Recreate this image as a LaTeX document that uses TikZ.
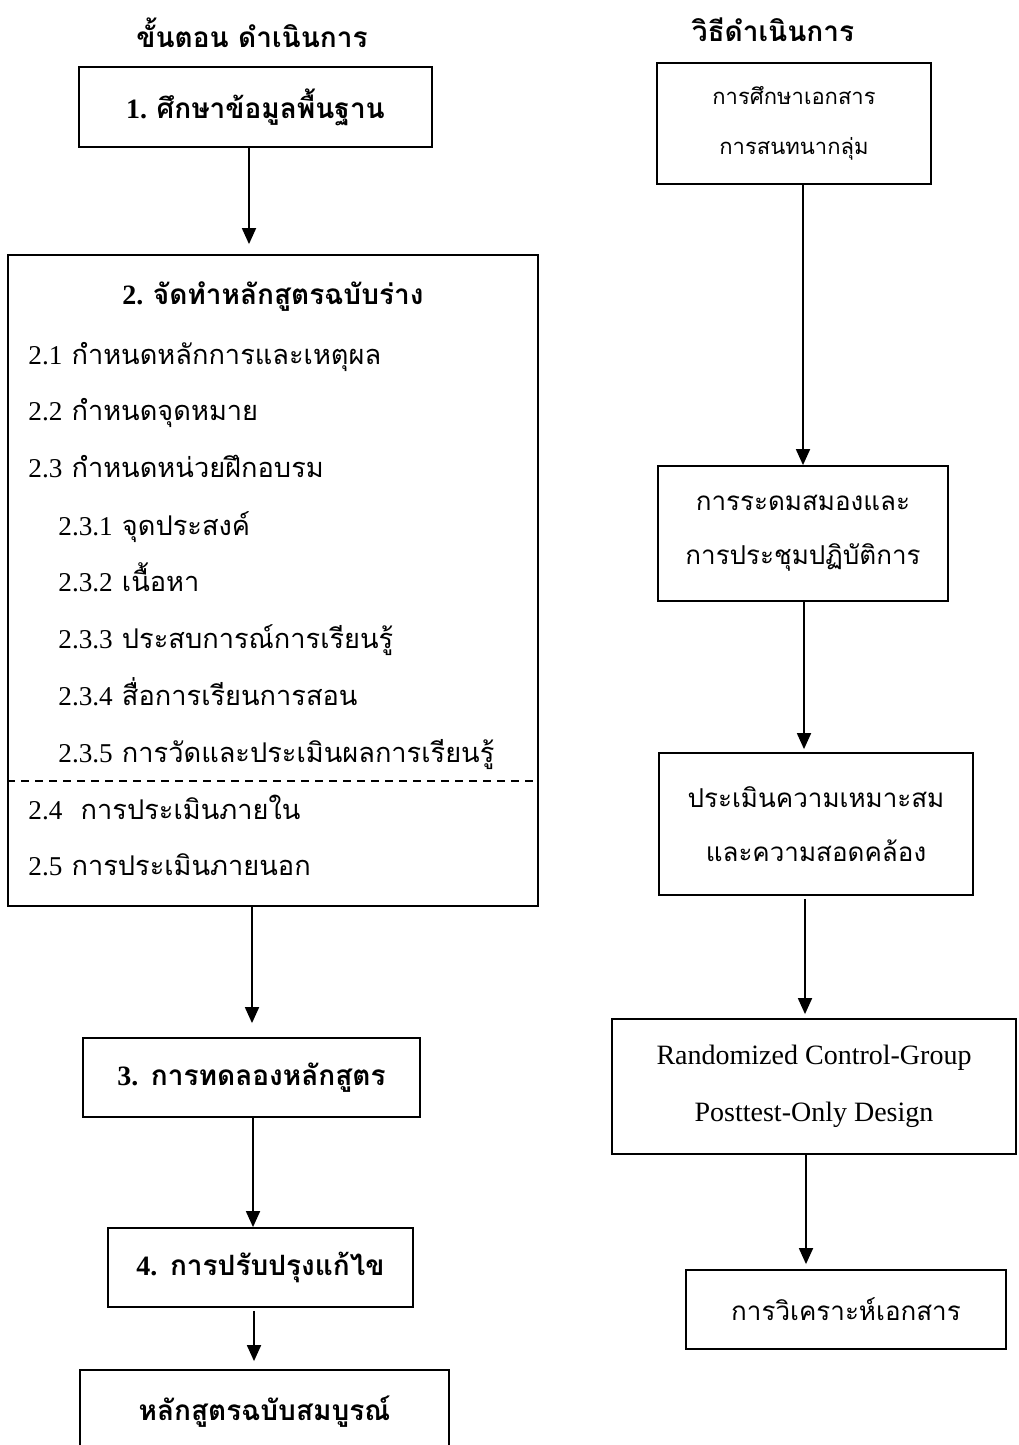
\documentclass[tikz,border=0pt]{standalone}
\usepackage{fontspec}
\setmainfont{Liberation Serif}
\newfontfamily\thai[Script=Thai]{Loma}
\usetikzlibrary{arrows.meta}
\begin{document}
\begin{tikzpicture}[x=0.5pt,y=-0.5pt,
  box/.style={draw, line width=0.9pt, inner sep=0pt, align=center},
  arr/.style={line width=0.9pt, -{Triangle[length=8pt,width=7pt]}},
  bigthai/.style={font=\thai\bfseries\fontsize{14}{28}\selectfont},
  itemthai/.style={font=\thai\fontsize{13.6}{28}\selectfont, anchor=base west, inner sep=0pt},
  rthai/.style={font=\thai\fontsize{13}{27}\selectfont},
  rthaismall/.style={font=\thai\fontsize{11}{25}\selectfont},
]
\useasboundingbox (0,0) rectangle (1018,1445);
\fill[white] (0,0) rectangle (1018,1445);

% titles
\node[bigthai] (tl) at (252,33) {ขั้นตอน ดำเนินการ};
\node[bigthai] (tr) at (773,30) {วิธีดำเนินการ};

% left column
\node[box, bigthai, minimum width=176.5pt, minimum height=40pt] (b1) at (255.5,107) {{\rmfamily 1.}\ ศึกษาข้อมูลพื้นฐาน};
\node[box, minimum width=265pt, minimum height=325.5pt] (b2) at (273,580.5) {};
\node[bigthai] (b2h) at (273,297) {{\rmfamily 2.}\ จัดทำหลักสูตรฉบับร่าง};
\node[itemthai] (i21) at (28,364) {{\rmfamily 2.1} กำหนดหลักการและเหตุผล};
\node[itemthai] (i22) at (28,420) {{\rmfamily 2.2} กำหนดจุดหมาย};
\node[itemthai] (i23) at (28,477) {{\rmfamily 2.3} กำหนดหน่วยฝึกอบรม};
\node[itemthai] (i231) at (58,535) {{\rmfamily 2.3.1} จุดประสงค์};
\node[itemthai] (i232) at (58,591) {{\rmfamily 2.3.2} เนื้อหา};
\node[itemthai] (i233) at (58,648) {{\rmfamily 2.3.3} ประสบการณ์การเรียนรู้};
\node[itemthai] (i234) at (58,705) {{\rmfamily 2.3.4} สื่อการเรียนการสอน};
\node[itemthai] (i235) at (58,762) {{\rmfamily 2.3.5} การวัดและประเมินผลการเรียนรู้};
\node[itemthai] (i24) at (28,819) {{\rmfamily 2.4}\ \ การประเมินภายใน};
\node[itemthai] (i25) at (28,875) {{\rmfamily 2.5} การประเมินภายนอก};
\coordinate (dashy) at (0,781);
\draw[dashed, line width=0.8pt, dash pattern=on 4pt off 3pt] (b2.west |- dashy) -- (b2.east |- dashy);

\node[box, bigthai, minimum width=168.5pt, minimum height=39.5pt] (b3) at (251.5,1077.5) {{\rmfamily 3.} การทดลองหลักสูตร};
\node[box, bigthai, minimum width=152.5pt, minimum height=39.5pt] (b4) at (260.5,1267.5) {{\rmfamily 4.} การปรับปรุงแก้ไข};
\node[box, bigthai, minimum width=184.5pt, minimum height=42pt] (b5) at (264.5,1412) {หลักสูตรฉบับสมบูรณ์};

\coordinate (x1) at (249,0);
\coordinate (x2) at (252,0);
\coordinate (x3) at (253,0);
\coordinate (x4) at (254,0);
\draw[arr, shorten >=5pt] (b1.south -| x1) -- (b2.north -| x1);
\draw[arr, shorten >=7pt] (b2.south -| x2) -- (b3.north -| x2);
\draw[arr] (b3.south -| x3) -- (b4.north -| x3);
\draw[arr, shorten <=1.5pt, shorten >=4pt] (b4.south -| x4) -- (b5.north -| x4);

% right column
\node[box, rthaismall, minimum width=137pt, minimum height=60.5pt] (ra) at (794,123.5) {การศึกษาเอกสาร\\การสนทนากลุ่ม};
\node[box, rthai, minimum width=145pt, minimum height=67.5pt] (rb) at (803,533.5) {การระดมสมองและ\\การประชุมปฏิบัติการ};
\node[box, rthai, minimum width=157pt, minimum height=71pt] (rc) at (816,824) {ประเมินความเหมาะสม\\และความสอดคล้อง};
\node[box, font=\fontsize{14}{28.5}\selectfont, minimum width=202pt, minimum height=67.5pt] (rd) at (814,1086.5) {Randomized Control-Group\\Posttest-Only Design};
\node[box, rthai, minimum width=160pt, minimum height=39.5pt] (re) at (846,1309.5) {การวิเคราะห์เอกสาร};

\coordinate (y1) at (803,0);
\coordinate (y2) at (804,0);
\coordinate (y3) at (805,0);
\coordinate (y4) at (806,0);
\draw[arr] (ra.south -| y1) -- (rb.north -| y1);
\draw[arr, shorten >=1.5pt] (rb.south -| y2) -- (rc.north -| y2);
\draw[arr, shorten <=1.5pt, shorten >=2pt] (rc.south -| y3) -- (rd.north -| y3);
\draw[arr, shorten >=2.5pt] (rd.south -| y4) -- (re.north -| y4);
\end{tikzpicture}
\end{document}
